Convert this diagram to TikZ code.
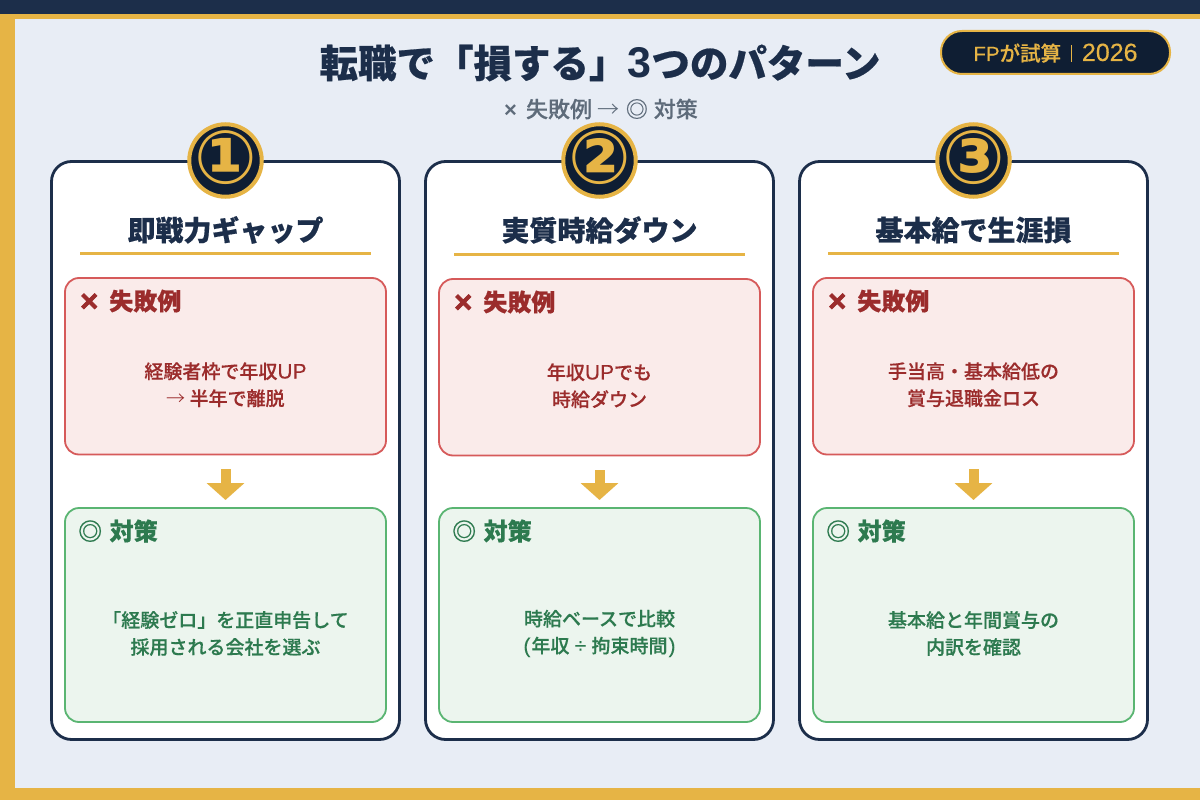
\documentclass[tikz,border=0pt]{standalone}
\usepackage{fontspec}
\usetikzlibrary{positioning,arrows.meta}
\setmainfont{Noto Sans CJK JP}[BoldFont={Noto Sans CJK JP Bold}]
\newfontfamily\jpblack{Noto Sans CJK JP Black}[RawFeature={embolden=0.5}]
\newfontfamily\jpbody{Noto Sans CJK JP Medium}[RawFeature={embolden=0.4}]
\newfontfamily\jpmedium{Noto Sans CJK JP Medium}
\newfontfamily\jplight{Noto Sans CJK JP Light}
\newfontfamily\lat{Liberation Sans}[RawFeature={embolden=0.3}]
\newfontfamily\latbold{Liberation Sans Bold}
\newfontfamily\markfont{Liberation Sans Bold}[RawFeature={embolden=2}]
\newfontfamily\numfont{DejaVu Sans Bold}
\newcommand{\latbig}[1]{{\lat\fontsize{21}{27}\selectfont #1}}
\newcommand{\failmark}{\raisebox{-1.5pt}{\markfont\fontsize{31}{28}\selectfont ×}\hspace{11pt}}
\definecolor{navy}{HTML}{1C2E4A}
\definecolor{ink}{HTML}{0F1E33}
\definecolor{gold}{HTML}{E6B445}
\definecolor{paper}{HTML}{E8EDF5}
\definecolor{greyish}{HTML}{5E6B7A}
\definecolor{failline}{HTML}{D65A5A}
\definecolor{failfill}{HTML}{FAEBEA}
\definecolor{failink}{HTML}{9B2C2C}
\definecolor{fixline}{HTML}{5AB572}
\definecolor{fixfill}{HTML}{ECF5EE}
\definecolor{fixink}{HTML}{2D7A4F}
\tikzset{
	card/.style={draw=navy,line width=2.8pt,fill=white,rounded corners=20pt,minimum width=348pt,minimum height=578pt,inner sep=0pt,outer sep=0pt},
	numdisc/.style={circle,draw=gold,line width=4pt,fill=ink,minimum size=72.5pt,inner sep=0pt},
	numglyph/.style={text=gold,inner sep=0pt,font=\numfont\fontsize{74}{74}\selectfont},
	cardtitle/.style={text=navy,inner sep=0pt,font=\jpblack\fontsize{28}{34}\selectfont},
	titlerule/.style={fill=gold,minimum width=291pt,minimum height=3pt,inner sep=0pt},
	failbox/.style={draw=failline,line width=1.8pt,fill=failfill,rounded corners=14pt,minimum width=321pt,minimum height=176.5pt,inner sep=0pt,outer sep=0pt},
	fixbox/.style={draw=fixline,line width=1.8pt,fill=fixfill,rounded corners=14pt,minimum width=321pt,minimum height=214pt,inner sep=0pt,outer sep=0pt},
	failhead/.style={text=failink,inner sep=0pt,font=\jpblack\fontsize{24}{28}\selectfont},
	fixhead/.style={text=fixink,inner sep=0pt,font=\jpblack\fontsize{24}{28}\selectfont},
	failtext/.style={text=failink,align=center,inner sep=0pt,font=\jpbody\fontsize{19}{27}\selectfont},
	fixtext/.style={text=fixink,align=center,inner sep=0pt,font=\jpbody\fontsize{19}{27}\selectfont},
	downarrow/.style={draw=gold,line width=10pt,-{Triangle[length=17pt,width=37pt]},shorten <=14.5pt,shorten >=8pt}
}
\begin{document}
\begin{tikzpicture}[x=1pt,y=-1pt,node distance=374pt,on grid]
	\useasboundingbox (0,0) rectangle (1200,800);
	\fill[paper] (0,0) rectangle (1200,800);
	\fill[gold] (0,14) rectangle (1200,19);
	\fill[navy] (0,0) rectangle (1200,14);
	\fill[gold] (0,14) rectangle (15,800);
	\fill[gold] (0,788) rectangle (1200,800);

	\node[text=navy,inner sep=0pt,font=\jpblack\fontsize{38.5}{44}\selectfont] (title) at (600,63) {転職で「損する」{\latbold\fontsize{43}{44}\selectfont 3}つのパターン};
	\node[text=greyish,inner sep=0pt,font=\jpbody\fontsize{22}{26}\selectfont] (subtitle) at (601,109) {{\latbold ×}\hspace{4pt} 失敗例\hspace{1pt} {\jplight →}\hspace{1pt} ◎\hspace{1pt} 対策};
	\node[draw=gold,line width=2pt,fill=ink,text=gold,rounded corners=21pt,minimum width=229pt,minimum height=43pt,inner sep=0pt,text height=20pt,text depth=3pt,font=\jpbody] (badge) at (1055.5,52.5)
		{\fontsize{20.5}{24}\selectfont {\lat FP}が試算\hspace{10pt}\rule[-1pt]{0.8pt}{17pt}\hspace{10pt}\fontsize{25}{28}\selectfont {\lat 2026}};

	% cards
	\node[card] (card_1) at (225.5,450.5) {};
	\node[card] (card_2) [right=of card_1] {};
	\node[card] (card_3) [right=of card_2] {};

	\node[numdisc] (num_1) at (225.5,160.5) {};
	\node[numdisc] (num_2) [right=of num_1] {};
	\node[numdisc] (num_3) [right=of num_2] {};
	\node[numglyph] (glyph_1) [above=3pt of num_1] {①};
	\node[numglyph] (glyph_2) [above=3pt of num_2] {②};
	\node[numglyph] (glyph_3) [above=3pt of num_3] {③};

	\node[cardtitle] (title_1) [above=220.5pt of card_1] {即戦力ギャップ};
	\node[cardtitle] (title_2) [above=220.5pt of card_2] {実質時給ダウン};
	\node[cardtitle] (title_3) [above=220.5pt of card_3] {基本給で生涯損};

	\node[titlerule] (rule_1) [above=197pt of card_1] {};
	\node[titlerule] (rule_2) [above=196pt of card_2] {};
	\node[titlerule] (rule_3) [above=197pt of card_3] {};

	% red boxes
	\node[failbox] (fail_1) [above=84.25pt of card_1] {};
	\node[failbox] (fail_2) [above=83.25pt of card_2] {};
	\node[failbox] (fail_3) [above=84.25pt of card_3] {};

	\node[failhead] (failhead_1) [below right=23pt and 15pt of fail_1.north west,anchor=west] {\failmark 失敗例};
	\node[failhead] (failhead_2) [below right=23pt and 15pt of fail_2.north west,anchor=west] {\failmark 失敗例};
	\node[failhead] (failhead_3) [below right=23pt and 15pt of fail_3.north west,anchor=west] {\failmark 失敗例};

	\node[failtext] (failtext_1) [below=18.5pt of fail_1] {経験者枠で年収\latbig{UP}\\{\jplight →} 半年で離脱};
	\node[failtext] (failtext_2) [below=18.5pt of fail_2] {年収\latbig{UP}でも\\時給ダウン};
	\node[failtext] (failtext_3) [below=18.5pt of fail_3] {手当高・基本給低の\\賞与退職金ロス};

	% green boxes
	\node[fixbox] (fix_1) [below=164.5pt of card_1] {};
	\node[fixbox] (fix_2) [below=164.5pt of card_2] {};
	\node[fixbox] (fix_3) [below=164.5pt of card_3] {};

	\node[fixhead] (fixhead_1) [below right=23pt and 13pt of fix_1.north west,anchor=west] {◎\hspace{2pt} 対策};
	\node[fixhead] (fixhead_2) [below right=23pt and 13pt of fix_2.north west,anchor=west] {◎\hspace{2pt} 対策};
	\node[fixhead] (fixhead_3) [below right=23pt and 13pt of fix_3.north west,anchor=west] {◎\hspace{2pt} 対策};

	\node[fixtext] (fixtext_1) [below=18.5pt of fix_1] {「経験ゼロ」を正直申告して\\採用される会社を選ぶ};
	\node[fixtext] (fixtext_2) [below=18.5pt of fix_2] {時給ベースで比較\\\latbig{(}\hspace{1pt}年収\hspace{1pt} \latbig{÷}\hspace{1pt} 拘束時間\hspace{1pt}\latbig{)}};
	\node[fixtext] (fixtext_3) [below=18.5pt of fix_3] {基本給と年間賞与の\\内訳を確認};

	\draw[downarrow] (fail_1) -- (fix_1);
	\draw[downarrow] (fail_2) -- (fix_2);
	\draw[downarrow] (fail_3) -- (fix_3);
\end{tikzpicture}
\end{document}
